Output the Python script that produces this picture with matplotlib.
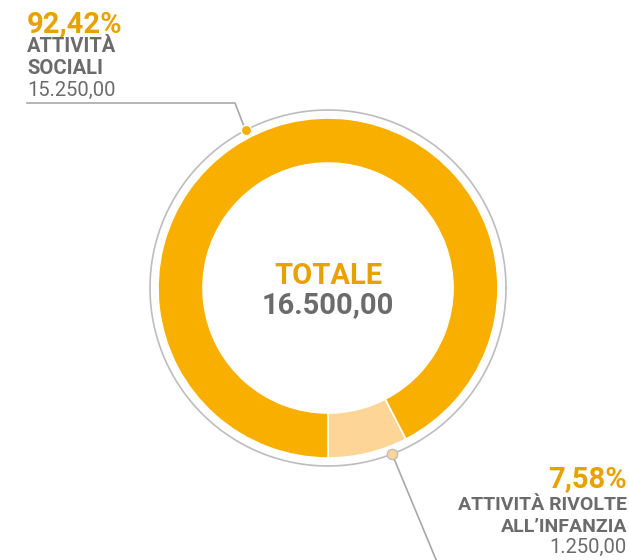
import numpy as np
import matplotlib.pyplot as plt

labels = [['ATTIVITÀ RIVOLTE', 'ALL\u2019INFANZIA'], ['ATTIVITÀ', 'SOCIALI']]
values = [1250.00, 15250.00]
percent = ['7,58%', '92,42%']
amounts = ['1.250,00', '15.250,00']
colors = ['#FDD597', '#F8AF00']

ORANGE = '#E8A200'
GRAY = '#6B6B6B'
FONT = ['Roboto', 'DejaVu Sans']

W, H = 629, 560
fig = plt.figure(figsize=(W / 100, H / 100), dpi=100)
ax = fig.add_axes([0, 0, 1, 1])

cx, cy = 328, H - 288
R = 170
ax.pie(values, colors=colors, startangle=-90, counterclock=True,
       radius=R, center=(cx, cy), frame=True,
       wedgeprops=dict(width=45, edgecolor='white', linewidth=1.2))
ax.set_xlim(0, W)
ax.set_ylim(0, H)
ax.set_aspect('equal')
ax.axis('off')

# outer thin ring
Ro = 178
t = np.linspace(0, 2 * np.pi, 400)
ax.plot(cx + Ro * np.cos(t), cy + Ro * np.sin(t), color='#BDBDBD', lw=1.2)

# leader lines
a1 = np.deg2rad(117.6)
p1 = (cx + Ro * np.cos(a1), cy + Ro * np.sin(a1))
ax.plot([p1[0], 235, 27], [p1[1], H - 103, H - 103], color='#A8A8A8', lw=1.2)
ax.scatter([p1[0]], [p1[1]], s=55, color=colors[1], edgecolor='white', lw=1, zorder=5)

a2 = np.deg2rad(-68.9)
p2 = (cx + Ro * np.cos(a2), cy + Ro * np.sin(a2))
ax.plot([p2[0], 437], [p2[1], H - 562], color='#A8A8A8', lw=1.2)
ax.scatter([p2[0]], [p2[1]], s=55, color=colors[0], edgecolor='#BDBDBD', lw=1, zorder=5)

# top-left label
ax.text(27, H - 32, percent[1], color=ORANGE, fontsize=21, fontweight='bold', family=FONT, va='baseline')
for i, line in enumerate(labels[1]):
    ax.text(27, H - 52 - 22 * i, line, color=GRAY, fontsize=14.5, fontweight='bold',
            family=FONT, va='baseline')
ax.text(27, H - 96, amounts[1], color=GRAY, fontsize=14.5, family=FONT, va='baseline')

# bottom-right label
ax.text(627, H - 487, percent[0], color=ORANGE, fontsize=21, fontweight='bold', family=FONT,
        va='baseline', ha='right')
for i, line in enumerate(labels[0]):
    ax.text(627, H - 510 - 22 * i, line, color=GRAY, fontsize=14, fontweight='bold',
            family=FONT, va='baseline', ha='right')
ax.text(627, H - 553, amounts[0], color=GRAY, fontsize=14.5, family=FONT,
        va='baseline', ha='right')

# center
total = sum(values)
ax.text(cx, H - 284, 'TOTALE', color=ORANGE, fontsize=21, fontweight='bold', family=FONT,
        ha='center', va='baseline')
ax.text(cx, H - 313, f'{total:,.2f}'.replace(',', 'X').replace('.', ',').replace('X', '.'),
        color=GRAY, fontsize=21, fontweight='bold', family=FONT, ha='center', va='baseline')

fig.savefig('out.png', dpi=100)
